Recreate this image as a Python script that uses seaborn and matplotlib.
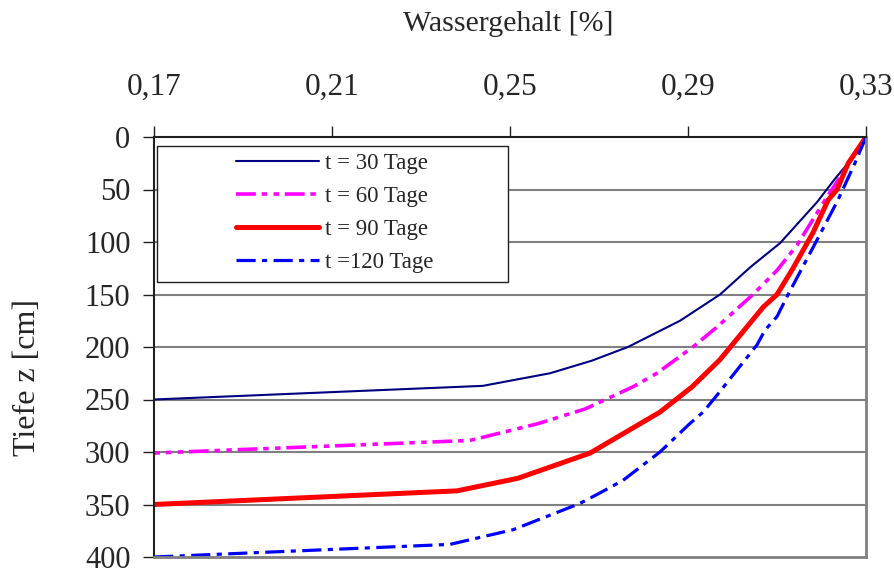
import matplotlib
matplotlib.use("Agg")
import matplotlib.pyplot as plt
from matplotlib.patches import Rectangle
from matplotlib.lines import Line2D
import seaborn as sns
import pandas as pd

# Depth profiles of the water content after 30, 60, 90 and 120 days
depth_30 = [0, 12, 40, 62, 101, 124, 150, 175, 200, 213, 225, 237, 250]
water_30 = [0.330, 0.3285, 0.3230, 0.3190, 0.3107, 0.3040, 0.2972, 0.2882,
            0.2765, 0.2684, 0.2590, 0.2439, 0.1700]

depth_60 = [0, 34, 60, 103, 127, 150, 181, 200, 225, 238, 259, 273, 289, 301]
water_60 = [0.330, 0.3248, 0.3208, 0.3145, 0.3100, 0.3046, 0.2965, 0.2911,
            0.2830, 0.2776, 0.2669, 0.2563, 0.2410, 0.1700]

depth_90 = [0, 25, 50, 60, 91, 125, 150, 162, 212, 238, 262, 301, 325, 337, 350]
water_90 = [0.330, 0.3260, 0.3235, 0.3215, 0.3181, 0.3136, 0.3100, 0.3069,
            0.2972, 0.2909, 0.2837, 0.2680, 0.2518, 0.2381, 0.1700]

depth_120 = [0, 25, 60, 98, 150, 171, 184, 198, 222, 246, 262, 273, 300,
             327, 339, 349, 374, 388, 400]
water_120 = [0.330, 0.3275, 0.3237, 0.3190, 0.3125, 0.3100, 0.3073, 0.3055,
             0.3010, 0.2965, 0.2934, 0.2904, 0.2837, 0.2754, 0.2702, 0.2657,
             0.2507, 0.2365, 0.1700]

labels = ["t = 30 Tage", "t = 60 Tage", "t = 90 Tage", "t =120 Tage"]
x_ticks = [0.17, 0.21, 0.25, 0.29, 0.33]
x_tick_labels = ["0,17", "0,21", "0,25", "0,29", "0,33"]
y_ticks = [0, 50, 100, 150, 200, 250, 300, 350, 400]

series = [(depth_30, water_30), (depth_60, water_60),
          (depth_90, water_90), (depth_120, water_120)]
colors = ["#000080", "#FF00FF", "#FF0000", "#0000FF"]
widths = [1.5, 2.6, 3.6, 2.3]
styles = ["-", (0, (5.5, 1.6, 1.5, 1.8, 1.5, 1.6)), "-", (0, (6, 2, 1.6, 2))]

sns.set_theme(style="white")
plt.rcParams["font.family"] = ["Liberation Serif", "DejaVu Serif"]

fig = plt.figure(figsize=(8.94, 5.69), dpi=100)
ax = fig.add_axes([154 / 894, 1 - 557 / 569, 712 / 894, 420 / 569])

for (d, w), lab, c, lw, ls in zip(series, labels, colors, widths, styles):
    df = pd.DataFrame({"Wassergehalt": w, "Tiefe": d})
    sns.lineplot(data=df, x="Wassergehalt", y="Tiefe", sort=False,
                 estimator=None, color=c, linewidth=lw, linestyle=ls,
                 ax=ax, legend=False)

ax.set_xlim(0.17, 0.33)
ax.set_ylim(400, 0)

ax.xaxis.tick_top()
ax.set_xticks(x_ticks)
ax.set_xticklabels(x_tick_labels, fontsize=22.5)
ax.set_yticks(y_ticks)
ax.set_yticklabels([str(v) for v in y_ticks], fontsize=22)
ax.tick_params(axis="x", which="major", direction="out", length=8,
               width=1.0, color="#202020", pad=17, top=True, bottom=False)
ax.tick_params(axis="y", which="major", direction="out", length=8,
               width=1.0, color="#202020", pad=9, left=True)

ax.set_xlabel("")
ax.set_ylabel("")

# horizontal grid lines
for v in y_ticks[1:-1]:
    ax.axhline(v, color="#808080", linewidth=1.5, zorder=0)

for side in ["left", "top"]:
    ax.spines[side].set_color("#202020")
    ax.spines[side].set_linewidth(1.5)
for side in ["right", "bottom"]:
    ax.spines[side].set_color("#808080")
    ax.spines[side].set_linewidth(2.0)

# title above the top axis and rotated depth label
fig.text(508 / 894, 1 - 24 / 569, "Wassergehalt [%]", ha="center",
         va="center", fontsize=21.5)
fig.text(28 / 894, 1 - 377 / 569, "Tiefe z [cm]", ha="center", va="center",
         rotation=90, fontsize=23)

# legend box
ax.add_patch(Rectangle((3 / 712, 1 - 145 / 420), 351 / 712, 136 / 420,
                       transform=ax.transAxes, facecolor="white",
                       edgecolor="#202020", linewidth=1.0, zorder=5))
handles = [Line2D([], [], color=c, linewidth=lw, linestyle=ls)
           for c, lw, ls in zip(colors, widths, styles)]
leg = ax.legend(handles, labels, loc="upper left",
                bbox_to_anchor=(82 / 712, 1 - 16 / 420), frameon=False,
                fontsize=16.5, handlelength=3.6, handletextpad=0.3,
                labelspacing=0.52, borderpad=0, borderaxespad=0)
leg.set_zorder(6)

fig.savefig("out.png", dpi=100, facecolor="white")
